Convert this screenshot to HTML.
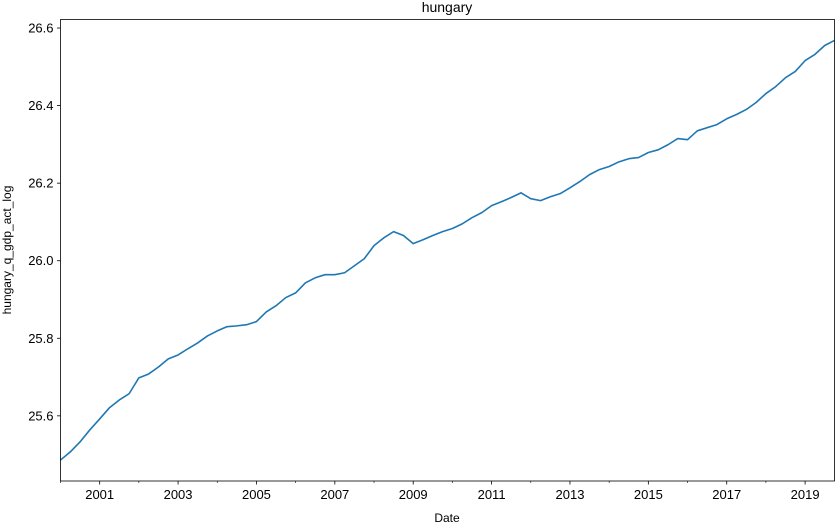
<!DOCTYPE html>
<html><head><meta charset="utf-8"><style>
body{margin:0;background:#fff;}
svg text{font-family:"Liberation Sans","DejaVu Sans",sans-serif;fill:#000;}
</style></head><body>
<svg id="chart" width="835" height="525" xmlns="http://www.w3.org/2000/svg">
<text x="447" y="12" font-size="14" text-anchor="middle">hungary</text>
<text transform="translate(11,250) rotate(-90)" font-size="12" text-anchor="middle">hungary_q_gdp_act_log</text>
<text x="447" y="522" font-size="12" text-anchor="middle">Date</text>
<g id="axes"></g>
<path id="series" fill="none" stroke="#1f77b4" stroke-width="1.6" stroke-linejoin="round"/>
<rect x="60.5" y="19.5" width="774" height="461.5" fill="none" stroke="#000" stroke-width="0.8"/>
</svg>
<script>
const startYear = 2000;
const values = [25.486,25.507,25.533,25.564,25.592,25.621,25.641,25.657,25.698,25.708,25.726,25.747,25.757,25.773,25.788,25.806,25.819,25.830,25.832,25.835,25.843,25.868,25.884,25.905,25.917,25.943,25.956,25.964,25.964,25.969,25.987,26.005,26.039,26.059,26.075,26.065,26.044,26.054,26.065,26.075,26.083,26.095,26.111,26.124,26.142,26.152,26.163,26.175,26.160,26.155,26.165,26.173,26.188,26.204,26.222,26.235,26.243,26.255,26.263,26.266,26.279,26.286,26.299,26.315,26.312,26.335,26.343,26.351,26.366,26.377,26.390,26.408,26.431,26.449,26.472,26.488,26.516,26.532,26.555,26.568];
const yTicks = [25.6,25.8,26.0,26.2,26.4,26.6];
const xTickLabels = [2001,2003,2005,2007,2009,2011,2013,2015,2017,2019];
const xMinorYears = [2000,2002,2004,2006,2008,2010,2012,2014,2016,2018];

const X0=60.5, X1=834.5, Y0=481, Y1=19.5;
const xMin=2000, xMax=2019.75, yMin=25.432, yMax=26.622;
const sx = t => X0 + (t-xMin)/(xMax-xMin)*(X1-X0);
const sy = v => Y0 - (v-yMin)/(yMax-yMin)*(Y0-Y1);
const NS="http://www.w3.org/2000/svg";
const axes=document.getElementById('axes');
function mk(tag,attrs){const e=document.createElementNS(NS,tag);for(const k in attrs)e.setAttribute(k,attrs[k]);axes.appendChild(e);return e;}

yTicks.forEach(v=>{
  const y=sy(v);
  const l=mk('line',{x1:X0-3.5,x2:X0,y1:y,y2:y,stroke:'#000','stroke-width':0.8});
  
  
  const t=mk('text',{x:X0-7,y:y+4.5,'font-size':13,'text-anchor':'end'});
  t.textContent=v.toFixed(1);
  
  
});
xTickLabels.forEach(yr=>{
  const x=sx(yr);
  const l=mk('line',{x1:x,x2:x,y1:Y0,y2:Y0+3.5,stroke:'#000','stroke-width':0.8});
  
  
  const t=mk('text',{x:x,y:Y0+18,'font-size':13,'text-anchor':'middle'});
  t.textContent=yr;
  
  
});
xMinorYears.forEach(yr=>{
  const x=sx(yr);
  const l=mk('line',{x1:x,x2:x,y1:Y0,y2:Y0+2,stroke:'#000','stroke-width':0.6});
  
  
});
let d='';
values.forEach((v,i)=>{d+=(i?'L':'M')+sx(startYear+i/4).toFixed(2)+','+sy(v).toFixed(2);});
document.getElementById('series').setAttribute('d',d);
</script>
</body></html>
